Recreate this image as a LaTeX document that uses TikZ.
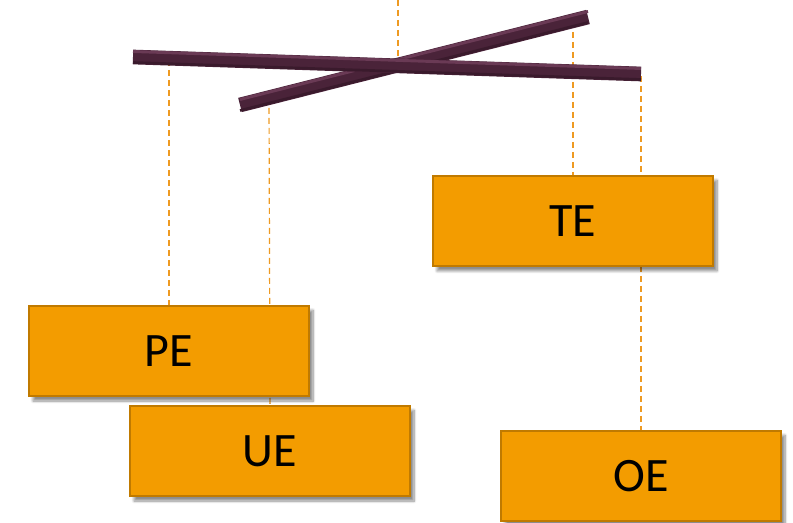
\documentclass[tikz,border=0pt]{standalone}
\usepackage{fontspec}
\setmainfont{Carlito}
\usetikzlibrary{shadows.blur}
\pgfdeclarelayer{background}
\pgfsetlayers{background,main}
\definecolor{boxfill}{HTML}{F39C00}
\definecolor{boxedge}{HTML}{C07A00}
\definecolor{stringcol}{HTML}{EE9A22}
\definecolor{rod}{HTML}{4A2339}
\definecolor{rodlight}{HTML}{6A3A55}
\definecolor{roddark}{HTML}{3A1A2C}
\tikzset{
  tag/.style={draw=boxedge, line width=1.5pt, fill=boxfill,
    minimum width=210pt, minimum height=68pt, inner sep=0pt,
    font=\fontsize{36}{40}\selectfont,
    blur shadow={shadow xshift=3pt, shadow yshift=-3.5pt, shadow opacity=45, shadow blur steps=8}},
  thread/.style={draw=stringcol, line width=0.9pt, dash pattern=on 4.5pt off 3pt},
  rodstyle/.style={draw=rod, line width=11pt, line cap=butt},
  rodshine/.style={draw=rodlight, line width=2.2pt, line cap=butt},
  rodshade/.style={draw=roddark, line width=2pt, line cap=butt}
}
\begin{document}
\begin{tikzpicture}[x=0.75pt, y=-0.75pt]
  \useasboundingbox (0,0) rectangle (793,523);

  % rod end points and hanging points
  \coordinate (r1a) at (133,57);
  \coordinate (r1b) at (641,74);
  \coordinate (r2a) at (240,105);
  \coordinate (r2b) at (588,17);
  \coordinate (hook) at (398,0);
  \coordinate (pivot) at (398,64);
  \coordinate (h1) at (169,60);
  \coordinate (h2) at (269,98);
  \coordinate (h3) at (573,22);
  \coordinate (h4) at (641,76);

  % the four tags
  \node[tag] (TE) at (573,221) {TE};
  \node[tag] (OE) at (641,476) {OE};
  \node[tag] (PE) at (169,351) {PE};
  \node[tag] (UE) at (270,451) {UE};

  % threads, hung behind everything
  \begin{pgfonlayer}{background}
    \draw[thread] (hook) -- (pivot);
    \draw[thread] (h1) -- (PE.north);
    \draw[thread] (h2) -- (UE.north);
    \draw[thread] (h3) -- (TE.north);
    \draw[thread] (h4) -- (OE.north);
  \end{pgfonlayer}

  % the two crossed rods
  \draw[rodstyle] (r2a) -- (r2b);
  \draw[rodshine] (r2a) ++(0,-5.5) -- ++(348,-88);
  \draw[rodshade] (r2a) ++(0,5.5) -- ++(348,-88);
  \draw[rodstyle] (r1a) -- (r1b);
  \draw[rodshine] (r1a) ++(0,-5.5) -- ++(508,17);
  \draw[rodshade] (r1a) ++(0,5.5) -- ++(508,17);
\end{tikzpicture}
\end{document}
